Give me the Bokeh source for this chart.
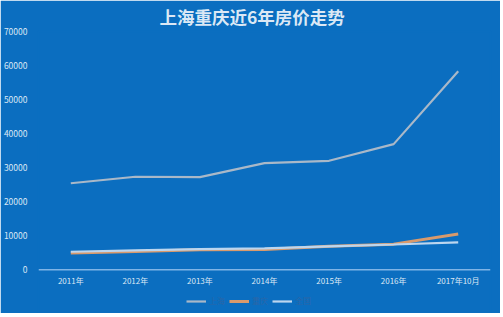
from bokeh.plotting import figure
from bokeh.models import ColumnDataSource, Legend, LegendItem, NumeralTickFormatter, FixedTicker, Range1d, Span
from bokeh.core.properties import value
from bokeh.embed import file_html
from bokeh.resources import INLINE

years = ["2011年", "2012年", "2013年", "2014年", "2015年", "2016年", "2017年10月"]
shanghai = [25400, 27300, 27200, 31300, 32000, 36900, 58300]
chongqing = [4900, 5350, 5850, 5950, 6850, 7500, 10450]
national = [5270, 5650, 6050, 6250, 6850, 7400, 8000]
series_names = ["上海", "重庆", "全国"]
y_ticks = [0, 10000, 20000, 30000, 40000, 50000, 60000, 70000]

BG = "#0b6ec0"
TXT = "#dbe8f5"
FONT = "Noto Sans CJK SC"

# frame: top 30px, bottom 313px; value 0 sits 44px above the frame bottom
Y_MAX = 70000
Y_MIN = -44 * Y_MAX / 239.0

p = figure(width=500, height=313, x_range=years, y_range=Range1d(Y_MIN, Y_MAX),
           output_backend="svg", toolbar_location=None,
           min_border_left=37, min_border_right=10, min_border_top=30, min_border_bottom=0)
p.background_fill_color = BG
p.border_fill_color = BG
p.outline_line_color = BG
p.outline_line_width = 2
p.xgrid.grid_line_color = None
p.ygrid.grid_line_color = None

p.title.text = "上海重庆近6年房价走势"
p.title.align = "left"
p.title.offset = 121
p.title.vertical_align = "middle"
p.title.text_font = FONT
p.title.text_font_size = "17.5px"
p.title.text_font_style = "bold"
p.title.text_color = TXT
p.title.standoff = 4

src = ColumnDataSource(dict(x=years, sh=shanghai, cq=chongqing, nat=national))
r1 = p.line("x", "sh", source=src, line_color="#a9b8c8", line_width=2.2)
r2 = p.line("x", "cq", source=src, line_color="#d99a6c", line_width=3)
r3 = p.line("x", "nat", source=src, line_color="#bcd6ef", line_width=2.2)

# category axis drawn at value 0 inside the frame
p.xaxis.visible = False
p.add_layout(Span(location=0, dimension="width", line_color="#7fb4e6", line_width=1.5))
lab_src = ColumnDataSource(dict(x=years, y=[-11 * Y_MAX / 239.0] * len(years)))
p.text("x", "y", text="x", source=lab_src, text_align="center", text_baseline="middle",
       text_color=TXT, text_font=value(FONT), text_font_size="8px")

p.yaxis.ticker = FixedTicker(ticks=y_ticks)
p.yaxis.formatter = NumeralTickFormatter(format="0")
p.yaxis.axis_line_color = None
p.yaxis.major_tick_line_color = None
p.yaxis.minor_tick_line_color = None
p.yaxis.major_label_text_color = TXT
p.yaxis.major_label_text_font = FONT
p.yaxis.major_label_text_font_size = "8.5px"
p.yaxis.major_label_standoff = 5

legend = Legend(items=[LegendItem(label=series_names[0], renderers=[r1]),
                       LegendItem(label=series_names[1], renderers=[r2]),
                       LegendItem(label=series_names[2], renderers=[r3])],
                orientation="horizontal", location=(148, 7))
legend.background_fill_alpha = 0
legend.border_line_color = None
legend.label_text_color = "#2a66a8"
legend.label_text_font = FONT
legend.label_text_font_size = "8px"
legend.glyph_width = 20
legend.glyph_height = 10
legend.label_standoff = 3
legend.spacing = 0
legend.padding = 2
legend.margin = 0
p.add_layout(legend)

open("out.html", "w").write(file_html(p, INLINE))
